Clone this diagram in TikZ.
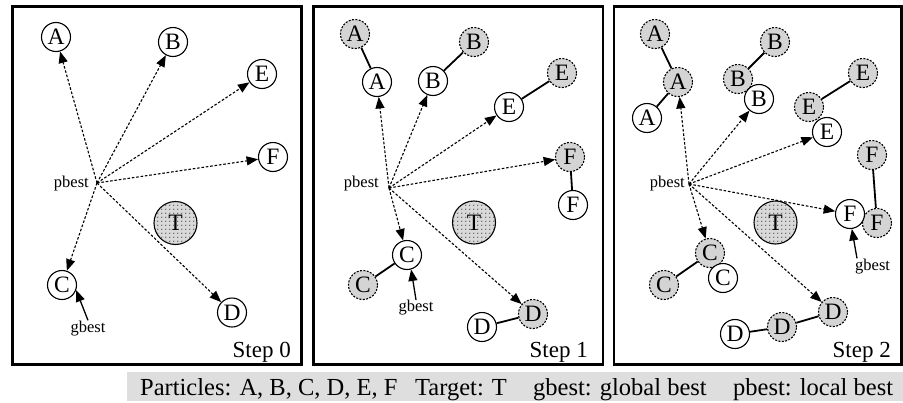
\documentclass[tikz,border=0pt]{standalone}
\usepackage{fontspec}
\setmainfont{Liberation Serif}
\usetikzlibrary{arrows.meta,patterns.meta}
\tikzdeclarepattern{name=tdots,type=uncolored,bottom left={(0pt,0pt)},top right={(3.8pt,3.8pt)},tile size={(3.8pt,3.8pt)},code={\fill (1.9pt,1.9pt) circle (0.7pt);}}
\begin{document}
\begin{tikzpicture}[x=1pt,y=-1pt,
  letter/.style={font=\fontsize{23.5}{25}\selectfont},
  frame/.style={draw,line width=2.8pt,fill=white},
  pw/.style={letter,circle,draw,line width=1.1pt,fill=white,minimum size=29pt,inner sep=0pt},
  ps/.style={letter,circle,draw,line width=1.1pt,dash pattern=on 2pt off 1.4pt,fill=black!17,minimum size=29pt,inner sep=0pt},
  tg/.style={letter,circle,draw,line width=1.1pt,fill=black!15,minimum size=43pt,inner sep=0pt,postaction={pattern=tdots,pattern color=black!70}},
  darr/.style={line width=1.1pt,dash pattern=on 2.6pt off 1.8pt,-{Triangle[length=11.5pt,width=9pt]}},
  conn/.style={line width=1.8pt},
  garr/.style={line width=1.3pt,-{Triangle[length=11.5pt,width=9pt]}},
  lbl/.style={font=\fontsize{16.5}{18}\selectfont,inner sep=0pt},
  steplbl/.style={font=\fontsize{23}{26}\selectfont,inner sep=0pt,anchor=base east},
  leg/.style={font=\fontsize{24.5}{26}\selectfont,inner sep=0pt,anchor=base west}]
\useasboundingbox (0,0) rectangle (903,402);
% legend
\fill[black!13] (127,372) rectangle (903,401);
\node[leg] (l1) at (140,395.5) {Particles: A, B, C, D, E, F};
\node[leg] (l2) at (415,395.5) {Target: T};
\node[leg] (l3) at (533,395.5) {gbest: global best};
\node[leg] (l4) at (733,395.5) {pbest: local best};

% ---------------- Panel 1 ----------------
\draw[frame] (12.5,6.5) rectangle (301.5,364.3);
\node[tg] (t1) at (175.5,223) {T};
\node[pw] (a1) at (56,37) {A};
\node[pw] (b1) at (173,42) {B};
\node[pw] (e1) at (262,74) {E};
\node[pw] (f1) at (273,157) {F};
\node[pw] (c1) at (62,285) {C};
\node[pw] (d1) at (232,312.5) {D};
\coordinate (p1) at (97,183);
\node[lbl,anchor=base east] (pb1) at (89,187) {pbest};
\node[lbl,anchor=base] (g1) at (88,332) {gbest};
\foreach \n in {a1,b1,e1,f1,c1,d1} \draw[darr] (p1) -- (\n);
\draw[garr] (g1.north) -- (c1.-20);
\node[steplbl] (s1) at (291,357) {Step 0};

% ---------------- Panel 2 ----------------
\draw[frame] (313.8,6.5) rectangle (603,364.3);
\node[tg] (t2) at (474,222.5) {T};
\node[ps] (a2s) at (355,34) {A};
\node[pw] (a2) at (377,82) {A};
\node[pw] (b2) at (433,81) {B};
\node[ps] (b2s) at (474,42) {B};
\node[pw] (e2) at (509,107) {E};
\node[ps] (e2s) at (562,73) {E};
\node[ps] (f2s) at (570,157) {F};
\node[pw] (f2) at (573,205) {F};
\node[pw] (c2) at (407,255) {C};
\node[ps] (c2s) at (363,285) {C};
\node[ps] (d2s) at (533,314) {D};
\node[pw] (d2) at (482,327) {D};
\draw[conn] (a2s) -- (a2);
\draw[conn] (b2) -- (b2s);
\draw[conn] (e2) -- (e2s);
\draw[conn] (f2s) -- (f2);
\draw[conn] (c2) -- (c2s);
\draw[conn] (d2) -- (d2s);
\coordinate (p2) at (389,188);
\node[lbl,anchor=base east] (pb2) at (379,187) {pbest};
\node[lbl,anchor=base] (g2) at (416,311.5) {gbest};
\foreach \n in {a2,b2,e2,f2s,c2,d2s} \draw[darr] (p2) -- (\n);
\draw[garr] (g2.north) -- (c2.-74);
\node[steplbl] (s2) at (588,357) {Step 1};

% ---------------- Panel 3 ----------------
\draw[frame] (614,6.5) rectangle (901.5,364.3);
\node[tg] (t3) at (775.5,222.5) {T};
\node[ps] (a3s) at (655,34) {A};
\node[ps] (a3m) at (678,82) {A};
\node[pw] (a3) at (647,118) {A};
\node[ps] (b3s) at (775,42) {B};
\node[ps] (b3m) at (738,79) {B};
\node[pw] (b3) at (759,99) {B};
\node[ps] (e3s) at (863,73) {E};
\node[ps] (e3m) at (809,107) {E};
\node[pw] (e3) at (827,132) {E};
\node[ps] (f3s) at (872,155) {F};
\node[ps] (f3m) at (877,223) {F};
\node[pw] (f3) at (850,214) {F};
\node[ps] (c3m) at (710,253) {C};
\node[pw] (c3) at (723,278) {C};
\node[ps] (c3s) at (664,285) {C};
\node[ps] (d3s) at (833,312) {D};
\node[ps] (d3m) at (782,327) {D};
\node[pw] (d3) at (735,334) {D};
\draw[conn] (a3s) -- (a3m);
\draw[conn] (a3m) -- (a3);
\draw[conn] (b3s) -- (b3m);
\draw[conn] (e3s) -- (e3m);
\draw[conn] (f3s) -- (f3m);
\draw[conn] (c3m) -- (c3s);
\draw[conn] (d3) -- (d3m);
\draw[conn] (d3m) -- (d3s);
\coordinate (p3) at (689,184);
\node[lbl,anchor=base east] (pb3) at (685,187) {pbest};
\node[lbl,anchor=base west] (g3) at (855,270) {gbest};
\foreach \n in {a3m,b3,e3,f3,c3m,d3s} \draw[darr] (p3) -- (\n);
\draw[garr] ([xshift=2pt]g3.north west) -- (f3.-83);
\node[steplbl] (s3) at (891,357) {Step 2};
\end{tikzpicture}
\end{document}
